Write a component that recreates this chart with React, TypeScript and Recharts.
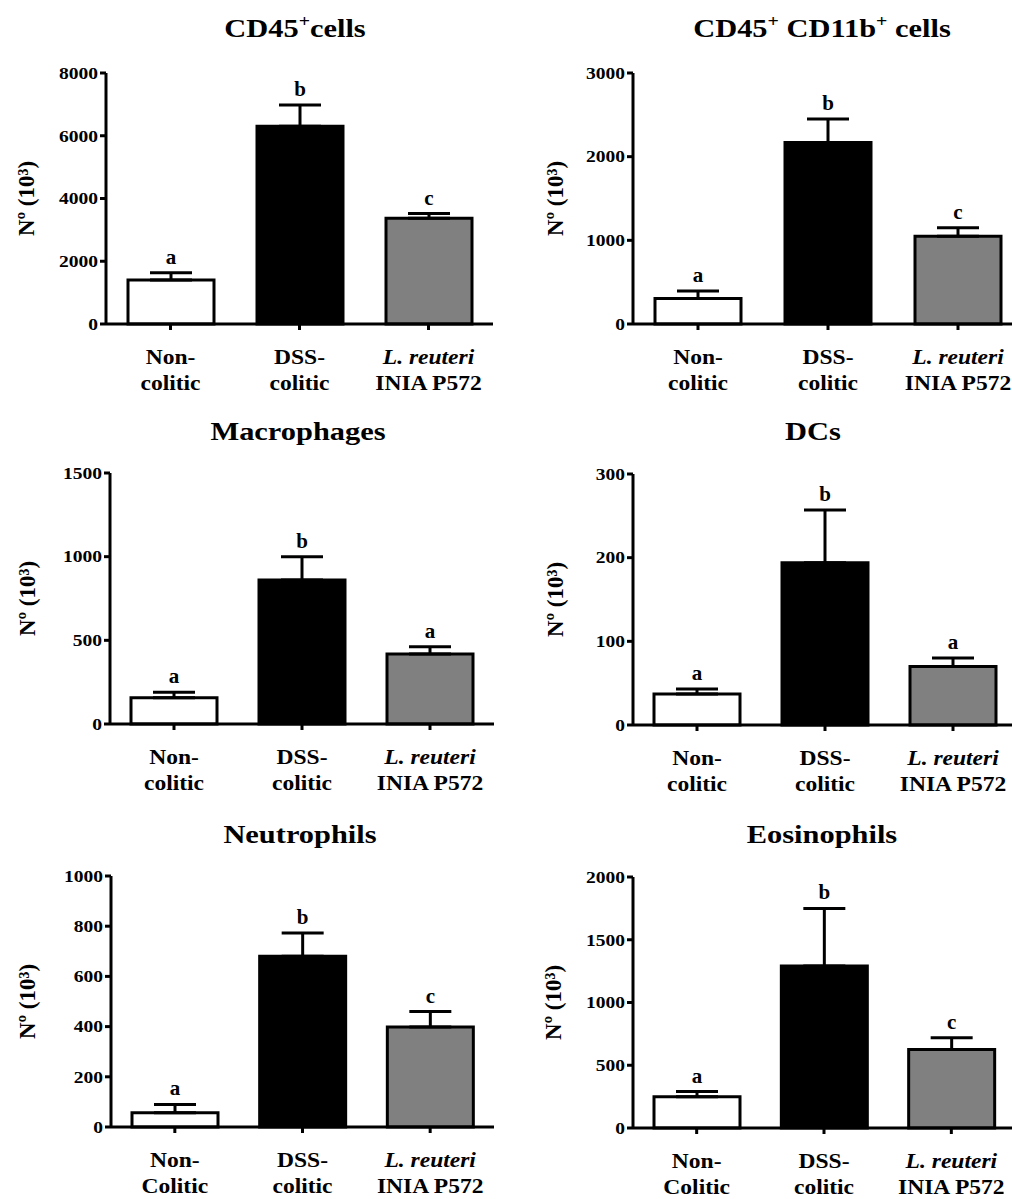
import React from 'react';
import { BarChart, Bar, XAxis, YAxis, ErrorBar, LabelList, Cell } from 'recharts';

const FONT = "'Liberation Serif', 'Times New Roman', serif";

const groups = ['Non-colitic', 'DSS-colitic', 'L. reuteri INIA P572'];
const tickLinesLower = [['Non-', 'colitic'], ['DSS-', 'colitic'], ['L. reuteri', 'INIA P572']];
const tickLinesUpper = [['Non-', 'Colitic'], ['DSS-', 'colitic'], ['L. reuteri', 'INIA P572']];
const barFills = ['#ffffff', '#000000', '#808080'];
const yLabel = 'Nº (10³)';

const cd45Mean = [1400, 6300, 3370];
const cd45Err = [230, 680, 150];
const cd45Letters = ['a', 'b', 'c'];
const cd45Ticks = [0, 2000, 4000, 6000, 8000];

const cd11bMean = [305, 2170, 1050];
const cd11bErr = [90, 280, 100];
const cd11bLetters = ['a', 'b', 'c'];
const cd11bTicks = [0, 1000, 2000, 3000];

const macMean = [157, 860, 418];
const macErr = [33, 140, 44];
const macLetters = ['a', 'b', 'a'];
const macTicks = [0, 500, 1000, 1500];

const dcMean = [37, 194, 70];
const dcErr = [6, 63, 10];
const dcLetters = ['a', 'b', 'a'];
const dcTicks = [0, 100, 200, 300];

const neuMean = [57, 680, 398];
const neuErr = [33, 93, 62];
const neuLetters = ['a', 'b', 'c'];
const neuTicks = [0, 200, 400, 600, 800, 1000];

const eosMean = [250, 1290, 625];
const eosErr = [40, 460, 95];
const eosLetters = ['a', 'b', 'c'];
const eosTicks = [0, 500, 1000, 1500, 2000];

type Part = { t: string; sup?: boolean };

const panels = [
  { title: [{ t: 'CD45' }, { t: '+', sup: true }, { t: 'cells' }] as Part[], mean: cd45Mean, err: cd45Err, letters: cd45Letters, ticks: cd45Ticks, lines: tickLinesLower,
    left: 0, width: 500, axisX: 106, plotRight: 493, plotTop: 73, titleX: 295, titleY: 37, labelX: 26 },
  { title: [{ t: 'CD45' }, { t: '+', sup: true }, { t: ' CD11b' }, { t: '+', sup: true }, { t: ' cells' }] as Part[], mean: cd11bMean, err: cd11bErr, letters: cd11bLetters, ticks: cd11bTicks, lines: tickLinesLower,
    left: 500, width: 530, axisX: 633, plotRight: 1023, plotTop: 73, titleX: 822, titleY: 37, labelX: 555 },
  { title: [{ t: 'Macrophages' }] as Part[], mean: macMean, err: macErr, letters: macLetters, ticks: macTicks, lines: tickLinesLower,
    left: 0, width: 500, axisX: 110, plotRight: 494, plotTop: 473, titleX: 298, titleY: 440, labelX: 27 },
  { title: [{ t: 'DCs' }] as Part[], mean: dcMean, err: dcErr, letters: dcLetters, ticks: dcTicks, lines: tickLinesLower,
    left: 500, width: 530, axisX: 633, plotRight: 1017, plotTop: 474, titleX: 813, titleY: 440, labelX: 555 },
  { title: [{ t: 'Neutrophils' }] as Part[], mean: neuMean, err: neuErr, letters: neuLetters, ticks: neuTicks, lines: tickLinesUpper,
    left: 0, width: 500, axisX: 111, plotRight: 494, plotTop: 876, titleX: 300, titleY: 843, labelX: 27 },
  { title: [{ t: 'Eosinophils' }] as Part[], mean: eosMean, err: eosErr, letters: eosLetters, ticks: eosTicks, lines: tickLinesUpper,
    left: 500, width: 530, axisX: 633, plotRight: 1015, plotTop: 877, titleX: 822, titleY: 843, labelX: 553 },
];

const PLOT_H = 251;
const TOP_M = 50;
const XAXIS_H = 80;
const YAXIS_W = 70;

const YTick = (props: any) => {
  const { x, y, payload } = props;
  return (
    <g transform={`translate(${x},${y})`}>
      <text transform="scale(1.22,1)" textAnchor="end" dy="0.36em" fontFamily={FONT} fontWeight="bold" fontSize={16} fill="#000">
        {payload.value}
      </text>
    </g>
  );
};

const makeXTick = (lines: string[][]) => (props: any) => {
  const { x, y, payload } = props;
  const idx = groups.indexOf(payload.value);
  const [l1, l2] = lines[idx];
  return (
    <g transform={`translate(${x},${y})`}>
      <text transform="scale(1.07,1)" textAnchor="middle" y={32} fontFamily={FONT} fontWeight="bold"
        fontStyle={idx === 2 ? 'italic' : 'normal'} fontSize={22} fill="#000">{l1}</text>
      <text transform="scale(1.07,1)" textAnchor="middle" y={58} fontFamily={FONT} fontWeight="bold" fontSize={22} fill="#000">{l2}</text>
    </g>
  );
};

const makeLetter = (mean: number[], err: number[], letters: string[]) => (props: any) => {
  const vb = props.viewBox || {};
  const x = props.x ?? vb.x;
  const y = props.y ?? vb.y;
  const width = props.width ?? vb.width;
  const height = props.height ?? vb.height;
  const idx = groups.indexOf(props.value);
  if (idx < 0) return null;
  const pxPerUnit = height / mean[idx];
  const top = y - err[idx] * pxPerUnit;
  return (
    <text x={x + width / 2} y={top - 9} textAnchor="middle" fontFamily={FONT} fontWeight="bold" fontSize={21} fill="#000">
      {letters[idx]}
    </text>
  );
};

const makeYLabel = (labelX: number, left: number) => (props: any) => {
  const vb = props.viewBox || {};
  const cy = vb.y + vb.height / 2;
  const cx = labelX - left;
  return (
    <text x={cx} y={cy} transform={`rotate(-90,${cx},${cy})`} textAnchor="middle" dominantBaseline="central"
      fontFamily={FONT} fontWeight="bold" fontSize={23} fill="#000">{yLabel}</text>
  );
};

const Panel = ({ p }: { p: any }) => {
  const data = groups.map((g, i) => ({ name: g, mean: p.mean[i], err: [0, p.err[i]] }));
  const h = TOP_M + PLOT_H + XAXIS_H;
  const marginLeft = p.axisX - p.left - YAXIS_W;
  const marginRight = p.width - (p.plotRight - p.left);
  const max = p.ticks[p.ticks.length - 1];
  return (
    <div style={{ position: 'absolute', left: p.left, top: p.plotTop - TOP_M, width: p.width, height: h }}>
      <BarChart width={p.width} height={h} data={data} margin={{ top: TOP_M, right: marginRight, left: marginLeft, bottom: 0 }}>
        <XAxis dataKey="name" height={XAXIS_H} axisLine={{ stroke: '#000', strokeWidth: 3 }}
          tickLine={{ stroke: '#000', strokeWidth: 3 }} tickSize={6} tickMargin={2} interval={0} tick={makeXTick(p.lines)} />
        <YAxis width={YAXIS_W} domain={[0, max]} ticks={p.ticks} interval={0} axisLine={{ stroke: '#000', strokeWidth: 3 }}
          tickLine={{ stroke: '#000', strokeWidth: 3 }} tickSize={6} tickMargin={2} tick={<YTick />}
          label={{ content: makeYLabel(p.labelX, p.left) }} />
        <Bar dataKey="mean" barSize={86} stroke="#000" strokeWidth={3} isAnimationActive={false}>
          {data.map((d, i) => <Cell key={d.name} fill={barFills[i]} />)}
          <ErrorBar dataKey="err" direction="y" width={21} stroke="#000" strokeWidth={3} isAnimationActive={false} />
          <LabelList dataKey="name" content={makeLetter(p.mean, p.err, p.letters)} />
        </Bar>
      </BarChart>
    </div>
  );
};

const Title = ({ p }: { p: any }) => (
  <text x={p.titleX} y={p.titleY} textAnchor="middle" fontFamily={FONT} fontWeight="bold" fontSize={26} fill="#000"
    transform={`translate(${p.titleX},0) scale(1.17,1) translate(${-p.titleX},0)`}>
    {p.title.map((part: Part, i: number) => {
      const prev = i > 0 ? p.title[i - 1] : null;
      let dy = 0;
      if (part.sup) dy = -10;
      else if (prev && prev.sup) dy = 10;
      return (
        <tspan key={i} dy={dy} fontSize={part.sup ? 17 : 26}>{part.t}</tspan>
      );
    })}
  </text>
);

export default function App() {
  return (
    <div style={{ position: 'absolute', left: 0, top: 0, width: 1012, height: 1199, overflow: 'hidden', background: '#fff' }}>
      {panels.map((p, i) => <Panel key={i} p={p} />)}
      <svg width={1012} height={1199} style={{ position: 'absolute', left: 0, top: 0, pointerEvents: 'none' }}>
        {panels.map((p, i) => <Title key={i} p={p} />)}
      </svg>
    </div>
  );
}
